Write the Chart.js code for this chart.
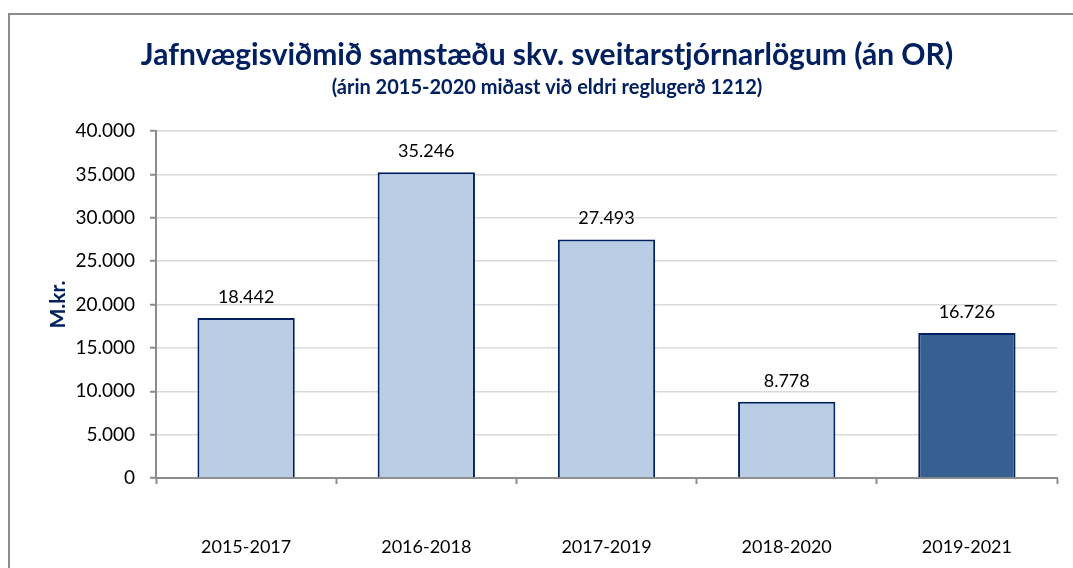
<!DOCTYPE html>
<html>
<head>
<meta charset="utf-8">
<script src="https://cdn.jsdelivr.net/npm/chart.js@4.4.1/dist/chart.umd.min.js"></script>
<style>
  html, body { margin: 0; padding: 0; background: #fff; }
  #wrap { position: relative; width: 1073px; height: 568px; }
</style>
</head>
<body>
<div id="wrap"><canvas id="chart"></canvas></div>
<script>
// data
const periods = ['2015-2017', '2016-2018', '2017-2019', '2018-2020', '2019-2021'];
const values = [18442, 35246, 27493, 8778, 16726];
const barColors = ['#b9cde5', '#b9cde5', '#b9cde5', '#b9cde5', '#376092'];

const chartTitle = 'Jafnvægisviðmið samstæðu skv. sveitarstjórnarlögum (án OR)';
const chartSubtitle = '(árin 2015-2020 miðast við eldri reglugerð 1212)';
const yTitle = 'M.kr.';

const NAVY = '#002060';
const FONT = 'Lato, "Open Sans", sans-serif';

function fmt(v) {
  return String(Math.round(v)).replace(/\B(?=(\d{3})+(?!\d))/g, '.');
}

// outer frame (top + left edge only, like the source image)
const framePlugin = {
  id: 'frame',
  beforeDraw(chart) {
    const ctx = chart.ctx;
    ctx.save();
    ctx.strokeStyle = '#8c8c8c';
    ctx.lineWidth = 2;
    ctx.beginPath();
    ctx.moveTo(9, chart.height);
    ctx.lineTo(9, 14);
    ctx.lineTo(chart.width, 14);
    ctx.stroke();
    ctx.restore();
  }
};

// value labels over the bars
const valueLabels = {
  id: 'valueLabels',
  afterDatasetsDraw(chart) {
    const ctx = chart.ctx;
    const meta = chart.getDatasetMeta(0);
    ctx.save();
    ctx.font = '18px ' + FONT;
    ctx.fillStyle = '#000';
    ctx.textAlign = 'center';
    ctx.textBaseline = 'alphabetic';
    meta.data.forEach((bar, i) => {
      ctx.fillText(fmt(values[i]), bar.x, bar.y - 15);
    });
    ctx.restore();
  }
};

const ctx = document.getElementById('chart').getContext('2d');

new Chart(ctx, {
  type: 'bar',
  data: {
    labels: periods,
    datasets: [{
      data: values,
      backgroundColor: barColors,
      borderColor: NAVY,
      borderWidth: 2,
      barPercentage: 0.54,
      categoryPercentage: 1
    }]
  },
  options: {
    responsive: true,
    maintainAspectRatio: false,
    animation: false,
    layout: {
      padding: { top: 13, left: 37, right: 16, bottom: 0 }
    },
    scales: {
      x: {
        afterFit: (scale) => { scale.height = 90; },
        grid: {
          offset: true,
          drawOnChartArea: false,
          drawTicks: true,
          tickLength: 6,
          tickColor: '#8c8c8c',
          tickWidth: 2
        },
        border: { color: '#8c8c8c', width: 2 },
        ticks: {
          color: '#000',
          font: { family: FONT, size: 18 },
          padding: 52
        }
      },
      y: {
        min: 0,
        max: 40000,
        afterFit: (scale) => { scale.width = 119; },
        grid: {
          color: '#d9d9d9',
          lineWidth: 1.5,
          drawTicks: true,
          tickLength: 6,
          tickColor: '#8c8c8c',
          tickWidth: 2
        },
        border: { color: '#8c8c8c', width: 2 },
        ticks: {
          stepSize: 5000,
          color: '#000',
          font: { family: FONT, size: 19 },
          padding: 15,
          callback: (v) => fmt(v)
        },
        title: {
          display: true,
          text: yTitle,
          color: NAVY,
          font: { family: FONT, size: 21, weight: 'bold' },
          padding: { top: 9, bottom: 0 }
        }
      }
    },
    plugins: {
      legend: { display: false },
      tooltip: { enabled: false },
      title: {
        display: true,
        text: chartTitle,
        color: NAVY,
        font: { family: FONT, size: 30, weight: 'bold' },
        padding: { top: 24, bottom: 0 }
      },
      subtitle: {
        display: true,
        text: chartSubtitle,
        color: NAVY,
        font: { family: FONT, size: 20, weight: 'bold' },
        padding: { top: 3, bottom: 31 }
      }
    }
  },
  plugins: [framePlugin, valueLabels]
});
</script>
</body>
</html>
